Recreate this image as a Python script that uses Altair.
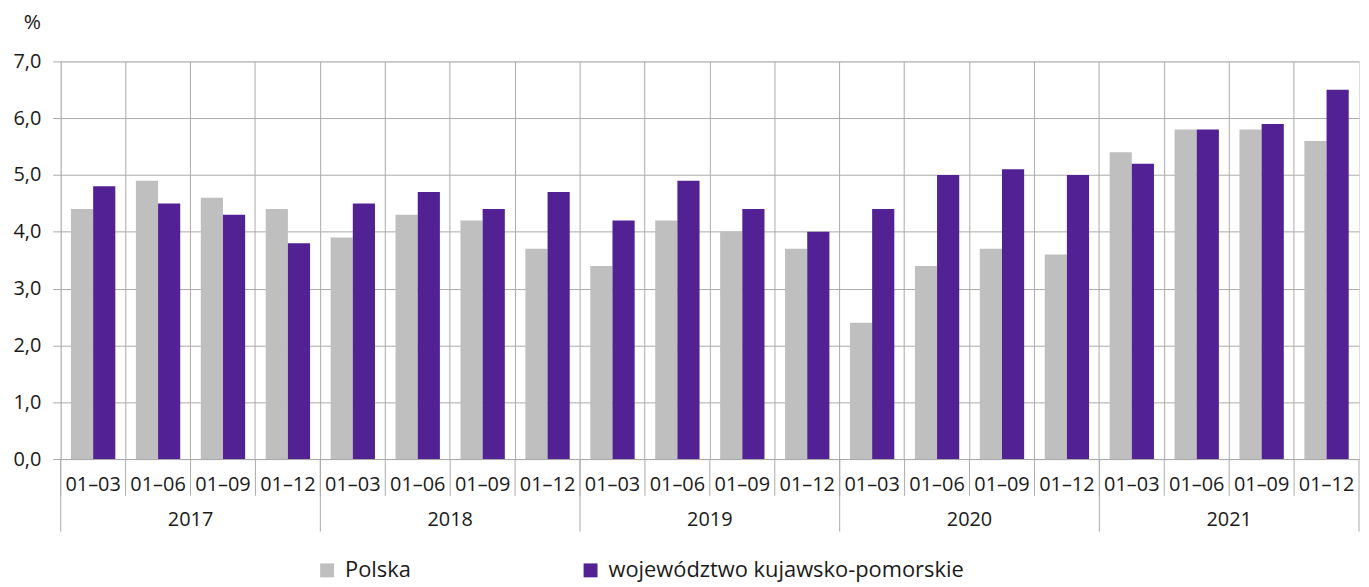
import altair as alt
import pandas as pd

years = ["2017", "2018", "2019", "2020", "2021"]
periods = ["01–03", "01–06", "01–09", "01–12"]
series_names = ["Polska", "województwo kujawsko-pomorskie"]
polska = [4.4, 4.9, 4.6, 4.4, 3.9, 4.3, 4.2, 3.7, 3.4, 4.2, 4.0, 3.7,
          2.4, 3.4, 3.7, 3.6, 5.4, 5.8, 5.8, 5.6]
kujawsko = [4.8, 4.5, 4.3, 3.8, 4.5, 4.7, 4.4, 4.7, 4.2, 4.9, 4.4, 4.0,
            4.4, 5.0, 5.1, 5.0, 5.2, 5.8, 5.9, 6.5]
colors = ["#BFBFBF", "#522294"]

keys = [f"{y}|{p}" for y in years for p in periods]

rows = []
for i, k in enumerate(keys):
    rows.append({"key": k, "series": series_names[0], "value": polska[i]})
    rows.append({"key": k, "series": series_names[1], "value": kujawsko[i]})
df = pd.DataFrame(rows)

sub_df = pd.DataFrame({"key": keys})
year_start_df = pd.DataFrame({"key": [f"{y}|{periods[0]}" for y in years]})
end_df = pd.DataFrame({"key": [keys[-1]]})
year_lbl_df = pd.DataFrame({"key": [f"{y}|{periods[2]}" for y in years], "year": years})

FONT = "Open Sans"
GRID = "#AAAAAA"
TXT = "#1a1a1a"

xscale = alt.Scale(paddingInner=0, paddingOuter=0)


def xaxis():
    return alt.Axis(title=None, labelExpr="split(datum.value, '|')[1]",
                    labelAngle=0, ticks=False, grid=True, bandPosition=0,
                    gridColor=GRID, domainColor=GRID, labelFontSize=20,
                    labelFont=FONT, labelColor=TXT, labelPadding=16,
                    labelOverlap=False)


bars = alt.Chart(df).mark_bar().encode(
    x=alt.X("key:N", sort=keys, scale=xscale, axis=xaxis()),
    xOffset=alt.XOffset("series:N", sort=series_names,
                        scale=alt.Scale(paddingOuter=0.464, paddingInner=0)),
    y=alt.Y("value:Q", scale=alt.Scale(domain=[0, 7]),
            axis=alt.Axis(title="%", titleAngle=0, titleX=-29, titleY=-39,
                          titleAlign="center", titleBaseline="middle",
                          titleFontSize=21, titleFontWeight="normal", titleFont=FONT,
                          titleColor=TXT, values=[0, 1, 2, 3, 4, 5, 6, 7],
                          labelExpr="replace(format(datum.value, '.1f'), '.', ',')",
                          tickSize=8, tickColor=GRID, domain=False, gridColor=GRID,
                          labelFontSize=20, labelFont=FONT, labelColor=TXT,
                          labelPadding=12)),
    color=alt.Color("series:N",
                    scale=alt.Scale(domain=series_names, range=colors),
                    legend=alt.Legend(title=None, orient="none", legendX=257, legendY=501,
                                      direction="horizontal", symbolType="square",
                                      symbolSize=196, symbolStrokeWidth=0,
                                      labelFontSize=22, labelFont=FONT, labelColor=TXT,
                                      labelOffset=7, labelLimit=600, columnPadding=169)),
)

sub_rules = alt.Chart(sub_df).mark_rule(color=GRID, strokeWidth=1).encode(
    x=alt.X("key:N", sort=keys, scale=xscale, bandPosition=0, axis=xaxis()),
    y=alt.value(400), y2=alt.value(437),
)
year_rules = alt.Chart(year_start_df).mark_rule(color=GRID, strokeWidth=1).encode(
    x=alt.X("key:N", sort=keys, scale=xscale, bandPosition=0, axis=xaxis()),
    y=alt.value(400), y2=alt.value(473),
)
end_rule = alt.Chart(end_df).mark_rule(color=GRID, strokeWidth=1).encode(
    x=alt.X("key:N", sort=keys, scale=xscale, bandPosition=1, axis=xaxis()),
    y=alt.value(400), y2=alt.value(473),
)
year_text = alt.Chart(year_lbl_df).mark_text(fontSize=20, font=FONT, color=TXT,
                                             baseline="middle", align="center").encode(
    x=alt.X("key:N", sort=keys, scale=xscale, bandPosition=0, axis=xaxis()),
    y=alt.value(461),
    text="year:N",
)

chart = alt.layer(bars, sub_rules, year_rules, end_rule, year_text).properties(
    width=1306, height=400,
    padding={"left": 53, "top": 52, "right": 2, "bottom": 127},
    autosize=alt.AutoSizeParams(type="none"),
).configure_view(strokeWidth=0).configure(background="white")

chart.save("out.html", embed_options={"renderer": "svg", "actions": False})
